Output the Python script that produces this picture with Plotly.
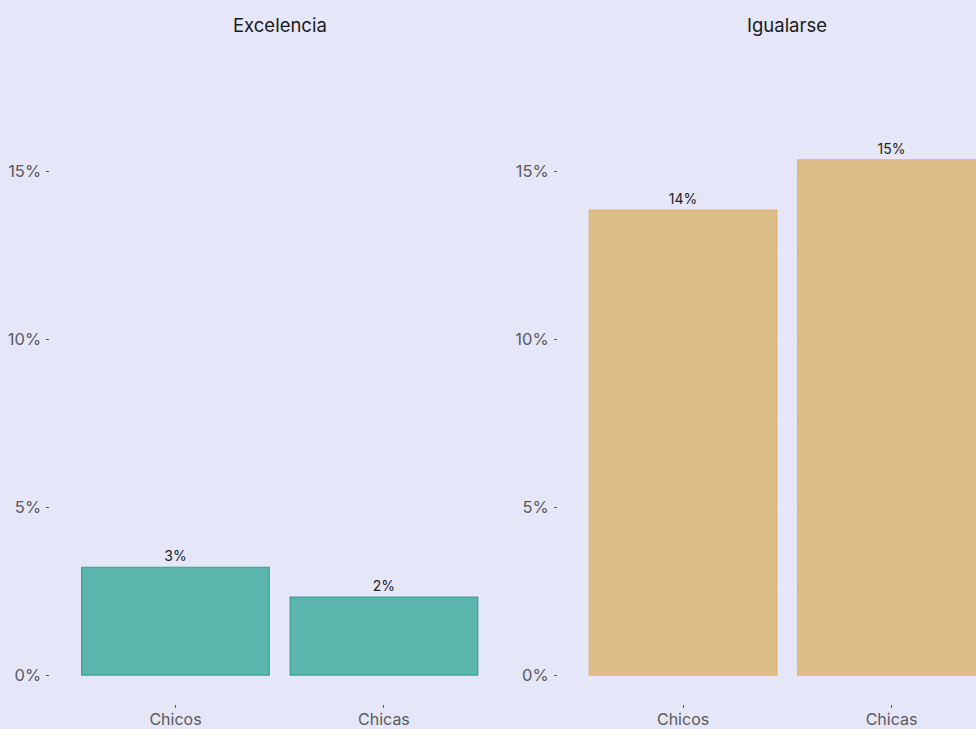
import plotly.graph_objects as go

# Porcentajes por grupo y categoría
grupos = ["Chicos", "Chicas"]
excelencia = [3.21, 2.32]
igualarse = [13.84, 15.33]
etiquetas_exc = ["3%", "2%"]
etiquetas_igu = ["14%", "15%"]
titulos = ["Excelencia", "Igualarse"]

W, H = 976, 729
BG = "#E5E6F8"
GRID = "#EAEBFA"
FONT = "Inter"

fig = go.Figure()

fig.add_trace(go.Bar(
    x=[1, 2], y=excelencia, text=etiquetas_exc, textposition="outside",
    width=0.9, marker=dict(color="#5BB5AC", line=dict(color="#3AA08F", width=1.2)),
    textfont=dict(family=FONT, size=14, color="#222222"),
    cliponaxis=False, xaxis="x", yaxis="y", showlegend=False,
))
fig.add_trace(go.Bar(
    x=[1, 2], y=igualarse, text=etiquetas_igu, textposition="outside",
    width=0.9, marker=dict(color="#DDBD88", line=dict(color="#E2B46A", width=1.2)),
    textfont=dict(family=FONT, size=14, color="#222222"),
    cliponaxis=True, xaxis="x2", yaxis="y2", showlegend=False,
))

# Paneles en píxeles
p1 = (50.4, 509.0)
p2 = (558.0, 976.0)
top_px, bot_px = 45.0, 704.0
ydom = [(H - bot_px) / H, (H - top_px) / H]
yrange = [-0.86, 18.75]
unit_px = (p1[1] - p1[0]) / 2.2

common_x = dict(
    tickmode="array", tickvals=[1, 2], ticktext=grupos,
    ticks="outside", ticklen=3, tickwidth=1, tickcolor="#555555",
    tickfont=dict(family=FONT, size=16, color="#5A5A5A"),
    showgrid=True, gridcolor=GRID, gridwidth=1,
    zeroline=False, showline=False, ticklabelstandoff=-2, automargin=False,
)
common_y = dict(
    range=yrange, tickmode="array", tickvals=[0, 5, 10, 15],
    ticktext=["0%", "5%", "10%", "15%"],
    ticks="outside", ticklen=3, tickwidth=1, tickcolor="#555555",
    tickfont=dict(family=FONT, size=16.5, color="#5A5A5A"),
    showgrid=True, gridcolor=GRID, gridwidth=1,
    minor=dict(tickvals=[2.5, 7.5, 12.5, 17.5], showgrid=True, gridcolor=GRID, gridwidth=0.6),
    zeroline=False, showline=False, ticklabelstandoff=2, automargin=False,
)

fig.update_layout(
    width=W, height=H,
    margin=dict(l=0, r=0, t=0, b=0, autoexpand=False),
    paper_bgcolor=BG, plot_bgcolor=BG,
    bargap=0.1,
    xaxis=dict(domain=[p1[0] / W, p1[1] / W], range=[0.4, 2.6], anchor="y", **common_x),
    xaxis2=dict(domain=[p2[0] / W, p2[1] / W],
                range=[0.4, 0.4 + (p2[1] - p2[0]) / unit_px],
                anchor="y2", **common_x),
    yaxis=dict(domain=ydom, anchor="x", **common_y),
    yaxis2=dict(domain=ydom, anchor="x2", **common_y),
)

# Títulos de faceta centrados sobre cada panel completo
centers = [(p1[0] + p1[1]) / 2, p2[0] + 1.1 * unit_px]
for t, cx in zip(titulos, centers):
    fig.add_annotation(
        text=t, x=cx / W, y=1 - 25 / H, xref="paper", yref="paper",
        xanchor="center", yanchor="middle", showarrow=False,
        font=dict(family=FONT, size=18.5, color="#1A1A1A"),
    )

fig.write_html("out.html")
